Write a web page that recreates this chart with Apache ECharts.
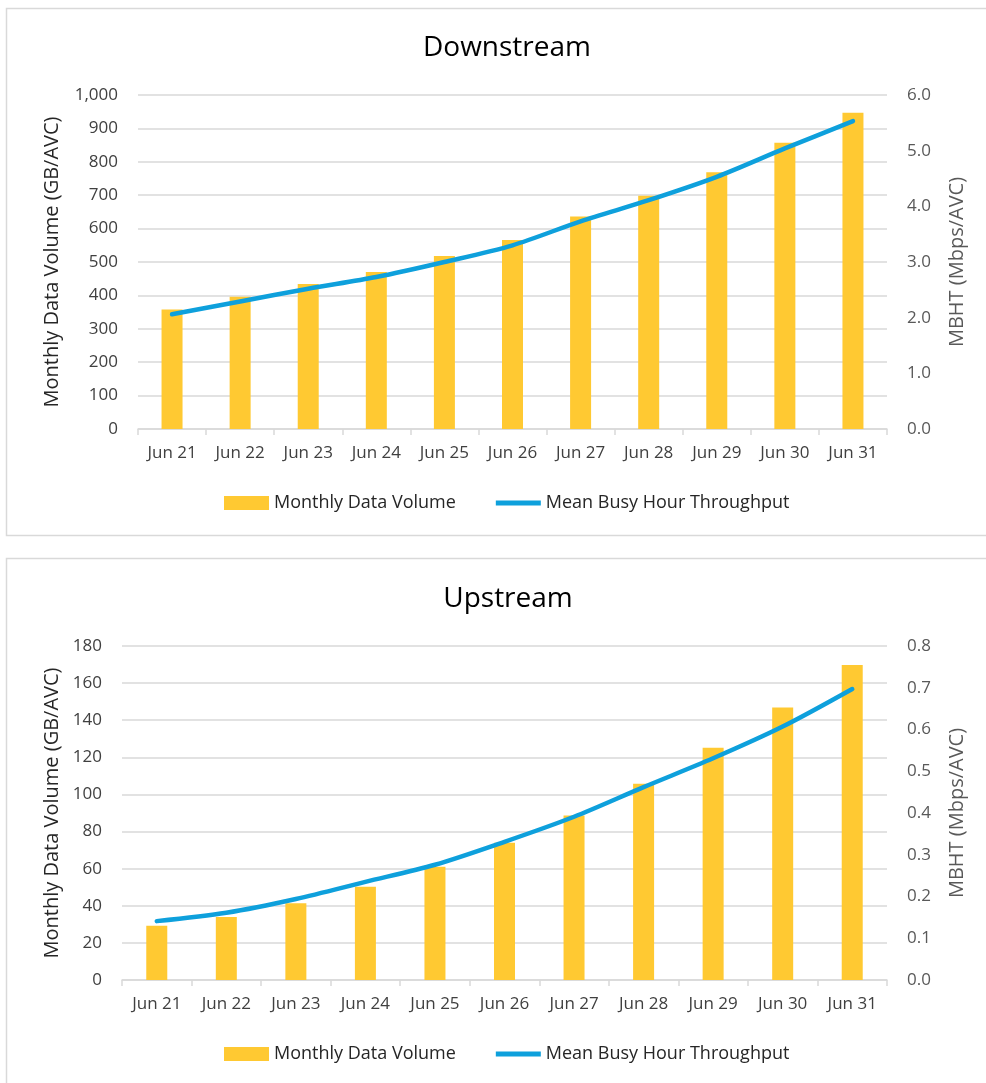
<!DOCTYPE html>
<html>
<head>
<meta charset="utf-8">
<script src="https://cdn.jsdelivr.net/npm/echarts@6/dist/echarts.min.js"></script>
<style>
  html, body { margin: 0; padding: 0; background: #fff; }
  #chart { width: 986px; height: 1083px; }
</style>
</head>
<body>
<div id="chart"></div>
<script>
// Category labels shared by both panels
const categories = ['Jun 21', 'Jun 22', 'Jun 23', 'Jun 24', 'Jun 25', 'Jun 26', 'Jun 27', 'Jun 28', 'Jun 29', 'Jun 30', 'Jun 31'];

// Downstream: monthly data volume (GB/AVC) and mean busy hour throughput (Mbps/AVC)
const downVolume = [358, 396, 434, 470, 518, 566, 636, 698, 769, 857, 947];
const downMbht = [2.06, 2.29, 2.52, 2.73, 3.00, 3.30, 3.73, 4.11, 4.53, 5.04, 5.53];

// Upstream: monthly data volume (GB/AVC) and mean busy hour throughput (Mbps/AVC)
const upVolume = [29.3, 34.0, 41.3, 50.3, 61.0, 74.0, 88.6, 105.7, 125.2, 146.8, 169.7];
const upMbht = [0.141, 0.161, 0.194, 0.235, 0.276, 0.331, 0.391, 0.462, 0.531, 0.607, 0.697];

const FONT = '"Open Sans", "Noto Sans", sans-serif';
const BAR_COLOR = '#FFC932';
const LINE_COLOR = '#0EA0DC';
const GRID_LINE = '#D9D9D9';
const TICK_TEXT = '#595959';

function xAxisFor(gridIndex) {
  return {
    type: 'category',
    gridIndex,
    data: categories,
    boundaryGap: true,
    axisLine: { lineStyle: { color: GRID_LINE, width: 1.5 } },
    axisTick: { show: true, length: 6, lineStyle: { color: GRID_LINE, width: 1.5 } },
    axisLabel: { color: '#404040', fontSize: 17, fontFamily: FONT, margin: 16, interval: 0 }
  };
}

function leftAxis(gridIndex, max, interval, gap) {
  return {
    type: 'value',
    gridIndex,
    min: 0, max, interval,
    name: 'Monthly Data Volume (GB/AVC)',
    nameLocation: 'middle',
    nameGap: gap,
    nameTextStyle: { color: '#262626', fontSize: 20, fontFamily: FONT },
    axisLine: { show: false },
    axisTick: { show: false },
    splitLine: { lineStyle: { color: GRID_LINE, width: 1.5 } },
    axisLabel: {
      color: '#404040', fontSize: 17, fontFamily: FONT, margin: 20,
      formatter: v => v.toLocaleString('en-US')
    }
  };
}

function rightAxis(gridIndex, max, interval, digits) {
  return {
    type: 'value',
    gridIndex,
    position: 'right',
    min: 0, max, interval,
    name: 'MBHT (Mbps/AVC)',
    nameLocation: 'middle',
    nameGap: 60,
    nameRotate: 90,
    nameTextStyle: { color: TICK_TEXT, fontSize: 20, fontFamily: FONT },
    axisLine: { show: false },
    axisTick: { show: false },
    splitLine: { show: false },
    axisLabel: {
      color: TICK_TEXT, fontSize: 17, fontFamily: FONT, margin: 20,
      formatter: v => v.toFixed(digits)
    }
  };
}

function legendFor(top) {
  return {
    top,
    left: 219,
    itemGap: 40,
    textStyle: { color: '#262626', fontSize: 18, fontFamily: FONT },
    data: [
      { name: 'Monthly Data Volume', icon: 'rect', itemStyle: { color: BAR_COLOR } },
      { name: 'Mean Busy Hour Throughput', icon: 'path://M0,0 L40,0 L40,4.5 L0,4.5 Z', itemStyle: { color: LINE_COLOR } }
    ],
    itemWidth: 45,
    itemHeight: 14
  };
}

function barSeries(xi, yi, data) {
  return {
    name: 'Monthly Data Volume',
    type: 'bar',
    xAxisIndex: xi, yAxisIndex: yi,
    data,
    barWidth: 21,
    itemStyle: { color: BAR_COLOR },
    silent: true
  };
}

function lineSeries(xi, yi, data) {
  return {
    name: 'Mean Busy Hour Throughput',
    type: 'line',
    xAxisIndex: xi, yAxisIndex: yi,
    data,
    smooth: 0.3,
    symbol: 'none',
    lineStyle: { color: LINE_COLOR, width: 4.5, cap: 'round', join: 'round' },
    itemStyle: { color: LINE_COLOR },
    silent: true
  };
}

const chart = echarts.init(document.getElementById('chart'), null, { renderer: 'canvas' });

chart.setOption({
  animation: false,
  backgroundColor: '#fff',
  graphic: [
    { type: 'rect', shape: { x: 6.5, y: 8.5, width: 1000, height: 527 }, style: { fill: 'none', stroke: '#D9D9D9', lineWidth: 1.5 }, z: -1 },
    { type: 'rect', shape: { x: 6.5, y: 558.5, width: 1000, height: 540 }, style: { fill: 'none', stroke: '#D9D9D9', lineWidth: 1.5 }, z: -1 }
  ],
  title: [
    { text: 'Downstream', left: 502, textAlign: 'center', top: 29, textStyle: { color: '#000', fontSize: 28, fontWeight: 'normal', fontFamily: FONT } },
    { text: 'Upstream', left: 503, textAlign: 'center', top: 580, textStyle: { color: '#000', fontSize: 28, fontWeight: 'normal', fontFamily: FONT } }
  ],
  legend: [legendFor(489), legendFor(1040)],
  grid: [
    { left: 138, right: 99, top: 95, height: 334 },
    { left: 122, right: 99, top: 646, height: 334 }
  ],
  xAxis: [xAxisFor(0), xAxisFor(1)],
  yAxis: [
    leftAxis(0, 1000, 100, 76),
    rightAxis(0, 6, 1, 1),
    leftAxis(1, 180, 20, 60),
    rightAxis(1, 0.8, 0.1, 1)
  ],
  series: [
    barSeries(0, 0, downVolume),
    lineSeries(0, 1, downMbht),
    barSeries(1, 2, upVolume),
    lineSeries(1, 3, upMbht)
  ]
});
</script>
</body>
</html>
